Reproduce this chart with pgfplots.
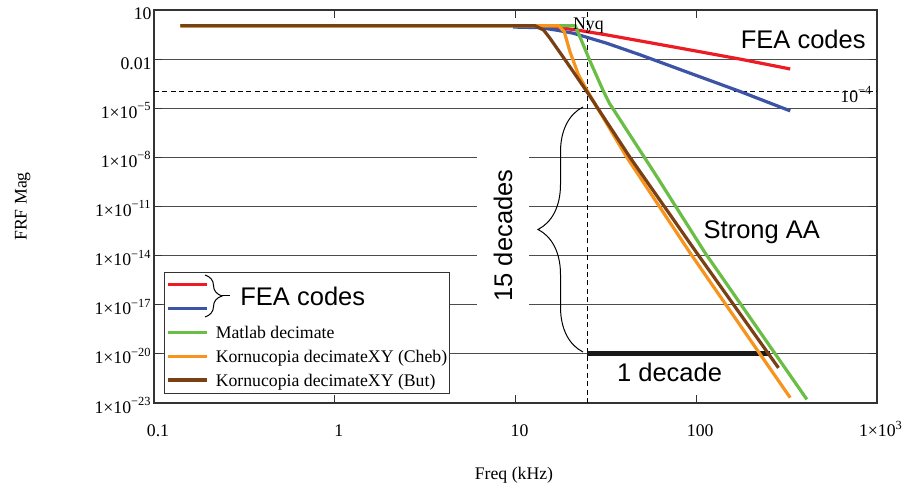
\documentclass[border=0pt]{standalone}
\usepackage{fontspec}
\setmainfont{Liberation Serif}
\newfontfamily\arial{Liberation Sans}
\usepackage{pgfplots}
\pgfplotsset{compat=1.18}
\usetikzlibrary{calc,decorations.pathreplacing}

\definecolor{cred}{RGB}{237,28,36}
\definecolor{cblue}{RGB}{59,84,165}
\definecolor{cgreen}{RGB}{106,189,69}
\definecolor{corange}{RGB}{247,148,29}
\definecolor{cbrown}{RGB}{123,63,20}

\newcommand\ex[1]{1×10\textsuperscript{−#1}}
\newcommand\bigsans{\arial\fontsize{12.8}{14}\selectfont}

\begin{document}
\begin{tikzpicture}[font=\fontsize{8.9}{12}\selectfont]
\begin{axis}[
  scale only axis, width=361.5bp, height=196.5bp,
  xmode=log, ymode=log,
  xmin=0.1, xmax=1000, ymin=1e-23, ymax=10,
  xminorticks=false, yminorticks=false,
  axis line style={draw=black!80, line width=1bp},
  xtick={0.1,1,10,100,1000},
  xticklabels={0.1,1,10,100,1×10\textsuperscript{3}},
  ytick={10,1e-2,1e-5,1e-8,1e-11,1e-14,1e-17,1e-20,1e-23},
  yticklabels={10,0.01,\ex{5},\ex{8},\ex{11},\ex{14},\ex{17},\ex{20},\ex{23}},
  tick align=inside, major tick length=4bp,
  tick style={draw=black!80, line width=0.6bp},
  ymajorgrids, major grid style={draw=black!70, line width=0.6bp},
  xticklabel style={anchor=base, yshift=-16.85bp, xshift=2bp, inner sep=0pt},
  yticklabel style={anchor=base east, yshift=-5bp, xshift=-1bp, inner sep=0pt},
  legend style={at={(rel axis cs:0.01383,0.3341)}, anchor=north west,
    draw=black!80, line width=0.6bp, fill=white,
    inner xsep=1bp, inner ysep=0.5bp, column sep=3.5bp, row sep=0pt,
    nodes={inner sep=0pt, text height=8.95bp, text depth=2.95bp},
    font=\fontsize{8.9}{12}\selectfont},
  legend cell align=left,
  legend image code/.code={\draw[#1] (0bp,0.25bp) -- (19.5bp,0.25bp);},
]
% guide lines
\addplot[forget plot, black, line width=0.5bp, dash pattern=on 2.5bp off 1.7bp]
  coordinates {(0.1,1e-4) (1000,1e-4)};
\addplot[forget plot, black, line width=0.5bp, dash pattern=on 2.5bp off 1.7bp]
  coordinates {(25,1e-23) (25,10)};
\addplot[forget plot, black!90, line width=2.5bp]
  coordinates {(25,1e-20) (256,1e-20)};

% FEA codes
\addplot[cred, line width=1.6bp] coordinates {
  (9.7,1.0) (14,0.95) (18,0.8) (21.8,0.60) (32,0.30) (49,0.129)
  (92.5,0.0363) (175,0.0100) (331,0.0025)};
\addlegendentry{}
\addplot[cblue, line width=1.6bp] coordinates {
  (9.7,0.91) (13.7,0.83) (17,0.58) (20.9,0.38) (32,0.093) (49,0.0182)
  (92.5,1.38e-3) (175,1.05e-4) (331,6.9e-6)};
\addlegendentry{}
% decimation filters
\addplot[cgreen, line width=1.6bp] coordinates {
  (0.14,1.1) (21.4,1.1) (23.3,0.117) (25.9,7.1e-3) (30.7,1.05e-4)
  (33.1,2e-5) (60.4,6.9e-10) (112,1.45e-14) (409,1.66e-23)};
\addlegendentry{Matlab decimate}
\addplot[corange, line width=1.6bp] coordinates {
  (0.14,1.1) (17.3,1.1) (18.6,0.48) (20.0,0.029) (22.3,1.1e-3)
  (24.8,1.3e-4) (41.3,1e-8) (92.5,1.45e-14) (331,2.1e-23)};
\addlegendentry{Kornucopia decimateXY (Cheb)\hspace{2bp}}
\addplot[cbrown, line width=1.6bp] coordinates {
  (0.14,1.1) (12.8,1.1) (14.3,0.6) (15.5,0.19) (19.2,6.5e-3)
  (24.8,1.05e-4) (43,1e-8) (100.7,1.45e-14) (285,1.4e-21)};
\addlegendentry{Kornucopia decimateXY (But)}

\coordinate (O) at (rel axis cs:0,1);
\end{axis}

\pgfresetboundingbox
% annotations, positioned in pixels of the 902x485 frame
\begin{scope}[shift={($(O)+(-77bp,5bp)$)}, x=0.5bp, y=0.5bp,
    every node/.style={inner sep=0pt}]
  \path (0,0) rectangle (902,-485);
  \node[fill=white, inner sep=8.5bp, rotate=90, font=\bigsans] at (503,-235.5) {15 decades};
  \draw[line width=0.5bp, decorate, decoration={brace, amplitude=22.5bp}]
    (583,-352) -- (583,-107);
  \draw[line width=0.5bp, decorate, decoration={brace, amplitude=8.5bp}]
    (205,-275) -- (205,-317);
  \draw[line width=0.5bp] (222,-296) -- (230,-296);
  \node[anchor=base west, font=\bigsans] at (240,-305.7) {FEA codes};
  \node[anchor=base east, font=\bigsans] at (866,-48.3) {FEA codes};
  \node[anchor=base west, font=\bigsans] at (703.3,-238.3) {Strong AA};
  \node[anchor=base west, font=\bigsans] at (616.7,-381.7) {1 decade};
  \node[anchor=base west] at (572.7,-30) {Nyq};
  \node[anchor=base west] at (840,-102.3) {10\textsuperscript{−4}};
  \node[rotate=90, anchor=base] at (26.7,-206.5) {FRF Mag};
  \node[anchor=base] at (514,-480) {Freq (kHz)};
\end{scope}
\end{tikzpicture}
\end{document}
